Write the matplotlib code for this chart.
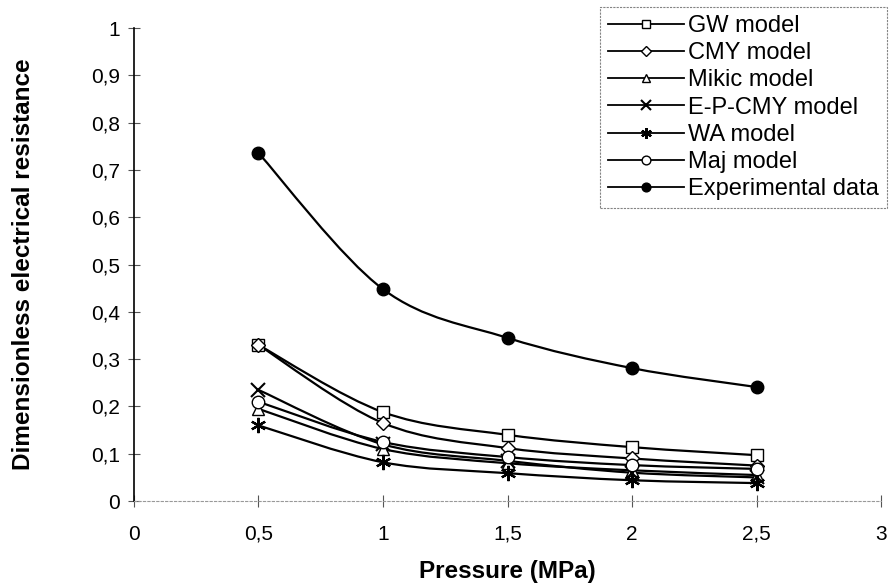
import matplotlib
matplotlib.use("Agg")
import matplotlib.pyplot as plt
from matplotlib.path import Path
from matplotlib.patches import PathPatch
from matplotlib.lines import Line2D
from matplotlib.ticker import FuncFormatter
import numpy as np

plt.rcParams['font.family'] = ['Liberation Sans', 'DejaVu Sans']

pressure = [0.5, 1.0, 1.5, 2.0, 2.5]
gw = [0.330, 0.188, 0.140, 0.114, 0.097]
cmy = [0.330, 0.165, 0.112, 0.090, 0.075]
mikic = [0.195, 0.110, 0.080, 0.065, 0.055]
epcmy = [0.235, 0.120, 0.085, 0.060, 0.050]
wa = [0.160, 0.082, 0.059, 0.044, 0.038]
maj = [0.210, 0.125, 0.093, 0.076, 0.068]
exp_data = [0.736, 0.448, 0.345, 0.281, 0.241]

series = [
    ("GW model", gw, dict(marker='s', markersize=9, mfc='white')),
    ("CMY model", cmy, dict(marker='D', markersize=7, mfc='white')),
    ("Mikic model", mikic, dict(marker='^', markersize=8, mfc='white')),
    ("E-P-CMY model", epcmy, dict(marker='x', markersize=10, mew=1.5)),
    ("WA model", wa, dict(marker=(6, 2, 0), markersize=11, mew=1.6)),
    ("Maj model", maj, dict(marker='o', markersize=9, mfc='white')),
    ("Experimental data", exp_data, dict(marker='o', markersize=9, mfc='black')),
]


def smooth_path(x, y):
    # Excel-like smoothed line as cubic Bezier segments
    pts = np.column_stack([x, y])
    n = len(pts)
    verts = [pts[0]]
    codes = [Path.MOVETO]
    for i in range(n - 1):
        p0 = pts[i - 1] if i > 0 else pts[i]
        p1 = pts[i]
        p2 = pts[i + 1]
        p3 = pts[i + 2] if i + 2 < n else pts[i + 1]
        c1 = p1 + (p2 - p0) / 6.0
        c2 = p2 - (p3 - p1) / 6.0
        verts += [c1, c2, p2]
        codes += [Path.CURVE4] * 3
    return Path(verts, codes)


fig = plt.figure(figsize=(8.92, 5.84), dpi=100)
ax = fig.add_axes([0.150, 0.142, 0.838, 0.810])

handles = []
for name, vals, st in series:
    ax.add_patch(PathPatch(smooth_path(pressure, vals), fill=False,
                           edgecolor='black', lw=1.6, zorder=2))
    ax.plot(pressure, vals, linestyle='none', color='black', mec='black',
            zorder=3, **st)
    handles.append(Line2D([], [], color='black', lw=1.3, **st))

ax.set_xlim(0, 3)
ax.set_ylim(0, 1)
ax.set_xticks([0, 0.5, 1, 1.5, 2, 2.5, 3])
ax.set_yticks(np.arange(0, 1.01, 0.1))
fmt = FuncFormatter(lambda v, p: ('%g' % round(v, 2)).replace('.', ','))
ax.xaxis.set_major_formatter(fmt)
ax.yaxis.set_major_formatter(fmt)
ax.tick_params(direction='inout', length=8, width=0.8, labelsize=15, pad=6,
               color='#555555')
ax.tick_params(axis='x', pad=13)

for s in ['top', 'right']:
    ax.spines[s].set_visible(False)
ax.spines['left'].set_linewidth(1.2)
ax.spines['bottom'].set_linestyle((0, (2, 2)))
ax.spines['bottom'].set_color('#999999')
ax.spines['bottom'].set_linewidth(0.8)

ax.set_xlabel("Pressure (MPa)", fontsize=17.5, fontweight='bold', labelpad=12)
ax.set_ylabel("Dimensionless electrical resistance", fontsize=17.5,
              fontweight='bold', labelpad=40)

leg = ax.legend(handles, [s[0] for s in series], loc='upper right',
                bbox_to_anchor=(1.024, 1.07), fontsize=17, frameon=True,
                fancybox=False, edgecolor='#666666', handlelength=3.2,
                handletextpad=0.2, labelspacing=0.22, borderpad=0.35,
                markerscale=0.7)
leg.get_frame().set_linewidth(0.8)
leg.get_frame().set_linestyle((0, (2, 1)))

fig.savefig("out.png", dpi=100)
